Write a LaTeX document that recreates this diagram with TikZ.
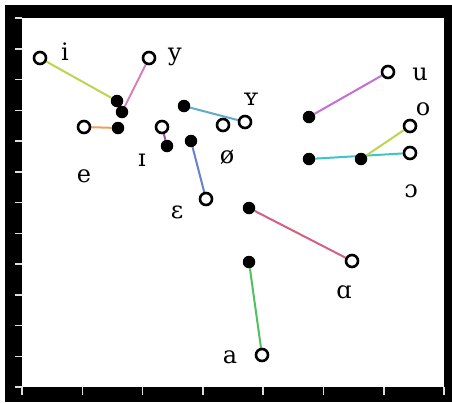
\documentclass[tikz,border=0pt]{standalone}
\usepackage{fontspec}
\newfontfamily\ipafont{DejaVu Serif}
\usetikzlibrary{backgrounds}
\definecolor{limeline}{RGB}{190,212,80}
\definecolor{pinkline}{RGB}{214,124,186}
\definecolor{orangeline}{RGB}{232,160,96}
\definecolor{purpleline}{RGB}{160,80,176}
\definecolor{skyline}{RGB}{96,170,204}
\definecolor{blueline}{RGB}{104,128,208}
\definecolor{roseline}{RGB}{210,96,130}
\definecolor{greenline}{RGB}{80,192,96}
\definecolor{orchidline}{RGB}{196,112,210}
\definecolor{tealline}{RGB}{64,196,196}

\begin{document}
\begin{tikzpicture}[x=1pt, y=-1pt,
    open/.style={circle, draw, line width=2.6pt, minimum size=12pt, inner sep=0pt, fill=white},
    shut/.style={circle, fill=black, minimum size=12.5pt, inner sep=0pt},
    vowel/.style={font=\ipafont\fontsize{24}{24}\selectfont, anchor=base, inner sep=0pt},
    glide/.style={line width=2pt}]

  \useasboundingbox (0,0) rectangle (452,402);
  \begin{scope}[on background layer]
    \fill (5,5) rectangle (452,402);
    \fill[white] (22,18) rectangle (444,387);
    \foreach \k in {0,...,12}
      \draw[gray!25, line width=1.5pt] (15,{18+\k*30.75}) -- (22,{18+\k*30.75});
    \foreach \k in {0,...,7}
      \draw[gray!25, line width=1.5pt] ({22+\k*60.3},387) -- ({22+\k*60.3},395);
  \end{scope}

  \node[open] (iO) at (40,58) {};
  \node[shut] (iF) at (117,101) {};
  \node[open] (yO) at (149,58) {};
  \node[shut] (yF) at (122,112) {};
  \node[open] (eO) at (84,127) {};
  \node[shut] (eF) at (118,128) {};
  \node[open] (IO) at (162,127) {};
  \node[shut] (IF) at (167,146) {};
  \node[shut] (YF) at (184,106) {};
  \node[open] (YO) at (245,122) {};
  \node[open] (oeO) at (223,125) {};
  \node[shut] (EF) at (191,141) {};
  \node[open] (EO) at (206,199) {};
  \node[shut] (AF) at (249,208) {};
  \node[open] (AO) at (352,261) {};
  \node[shut] (aF) at (249,262) {};
  \node[open] (aO) at (262,355) {};
  \node[shut] (uF) at (309,117) {};
  \node[open] (uO) at (388,72) {};
  \node[shut] (cF) at (309,159) {};
  \node[open] (cO) at (410,153) {};
  \node[shut] (oF) at (361,159) {};
  \node[open] (oO) at (410,126) {};

  \node[vowel] (iL) at (65,60) {i};
  \node[vowel] (yL) at (175,60) {y};
  \node[vowel] (eL) at (84,182) {e};
  \node[vowel] (IL) at (142,166) {ɪ};
  \node[vowel] (YL) at (251,105) {ʏ};
  \node[vowel] (oeL) at (227,163) {ø};
  \node[vowel] (EL) at (177,218) {ɛ};
  \node[vowel] (AL) at (344,298) {ɑ};
  \node[vowel] (aL) at (230,363) {a};
  \node[vowel] (uL) at (420,80) {u};
  \node[vowel] (oL) at (423,115) {o};
  \node[vowel] (cL) at (411,197) {ɔ};

  \begin{scope}[on background layer]
    \draw[glide, limeline] (iO) -- (iF);
    \draw[glide, pinkline] (yO) -- (yF);
    \draw[glide, orangeline] (eO) -- (eF);
    \draw[glide, purpleline] (IO) -- (IF);
    \draw[glide, skyline] (YF) -- (YO);
    \draw[glide, blueline] (EF) -- (EO);
    \draw[glide, roseline] (AF) -- (AO);
    \draw[glide, greenline] (aF) -- (aO);
    \draw[glide, orchidline] (uF) -- (uO);
    \draw[glide, tealline] (cF) -- (cO);
    \draw[glide, limeline] (oF) -- (oO);
  \end{scope}
\end{tikzpicture}
\end{document}
